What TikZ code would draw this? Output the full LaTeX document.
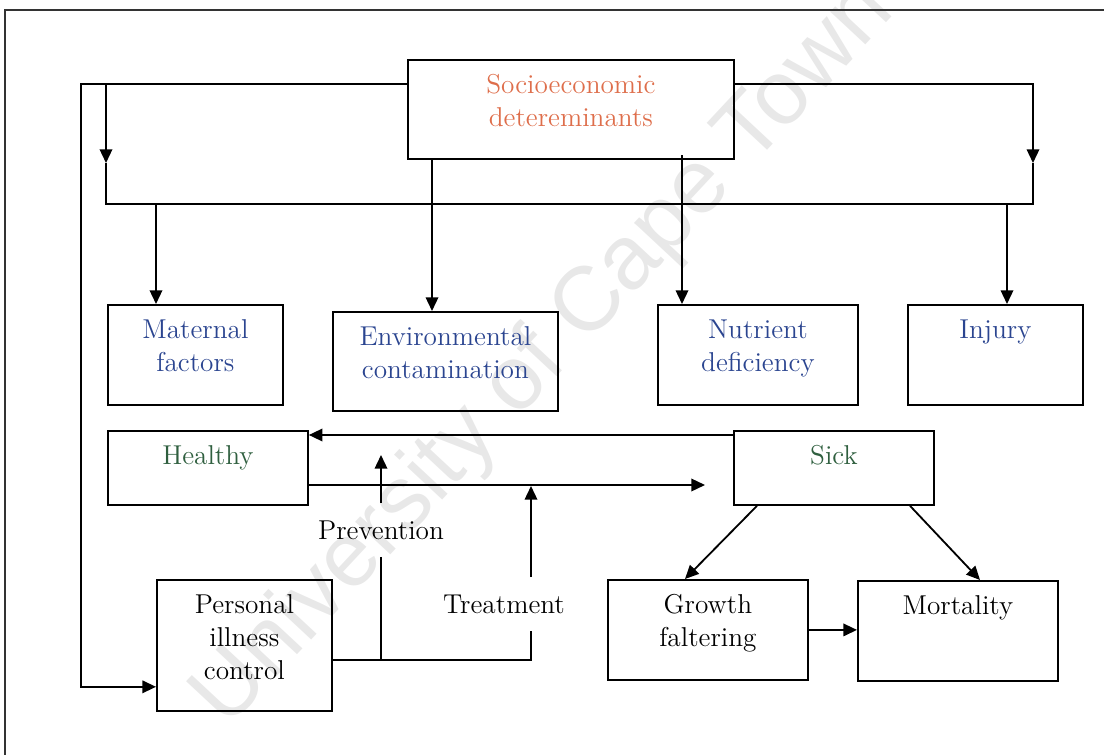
\documentclass[tikz,border=0pt]{standalone}
\usepackage{fontspec}
\usepackage{xcolor}
\usepackage{tikz}
\usetikzlibrary{arrows.meta,positioning,calc}
\newfontfamily\wmfont{Liberation Sans}
\definecolor{socOrange}{HTML}{DE6E4B}
\definecolor{facBlue}{HTML}{2B4590}
\definecolor{stGreen}{HTML}{2F5F3F}
\definecolor{wmGray}{HTML}{E8E8E8}
\def\u{0.44pt}
\tikzset{
  box/.style 2 args={draw,line width=0.8pt,inner sep=0pt,anchor=north west,
    minimum width=#1*\u,minimum height=#2*\u},
  txt/.style={align=center,inner sep=0pt,text=#1},
  lbl/.style={inner xsep=0pt,inner ysep=7.5pt},
  lnk/.style={line width=0.8pt}
}

\begin{document}
\begin{tikzpicture}[x=\u,y=-\u,font=\fontsize{12}{14.5}\selectfont,
  >={Triangle[length=6pt,width=5.5pt]}]
\useasboundingbox (0,0) rectangle (1104,755);
% watermark and frame
\node[text=wmGray,font=\wmfont\fontsize{40}{40}\selectfont,rotate=47] (wm) at (545,355) {University of Cape Town};
\draw[line width=0.7pt,black!80] (1104,10) -- (5,10) -- (5,755);

% boxes
\node[box={326}{99}] (soc) at (407,59) {};
\node[box={175}{100}] (mat) at (107,304) {};
\node[box={225}{99}] (env) at (332,311) {};
\node[box={200}{100}] (nut) at (657,304) {};
\node[box={175}{100}] (inj) at (907,304) {};
\node[box={200}{74}] (hea) at (107,430) {};
\node[box={200}{74}] (sic) at (733,430) {};
\node[box={175}{131}] (per) at (156,579) {};
\node[box={200}{100}] (gro) at (607,579) {};
\node[box={200}{100}] (mor) at (857,580) {};

% box texts
\node[txt=socOrange,anchor=north,below=6.7pt of soc.north] (socT) {Socioeconomic\\detereminants};
\node[txt=facBlue,anchor=north,below=6.7pt of mat.north] (matT) {Maternal\\factors};
\node[txt=facBlue,anchor=north,below=6.7pt of env.north] (envT) {Environmental\\contamination};
\node[txt=facBlue,anchor=north,below=6.7pt of nut.north] (nutT) {Nutrient\\deficiency};
\node[txt=facBlue,anchor=north,below=6.7pt of inj.north] (injT) {Injury};
\node[txt=stGreen,anchor=north,below=6.7pt of hea.north] (heaT) {Healthy};
\node[txt=stGreen,anchor=north,below=6.7pt of sic.north] (sicT) {Sick};
\node[txt=black,anchor=north,below=6.7pt of per.north] (perT) {Personal\\illness\\control};
\node[txt=black,anchor=north,below=6.7pt of gro.north] (groT) {Growth\\faltering};
\node[txt=black,anchor=north,below=6.7pt of mor.north] (morT) {Mortality};

% arrow labels
\node[lbl] (prev) at (381,530) {Prevention};
\node[lbl] (treat) at (504,604) {Treatment};

% bus points
\coordinate (busL) at (81,84);
\coordinate (tapL) at (106,84);
\coordinate (tapR) at (1033,84);
\coordinate (midL) at (106,163);
\coordinate (midR) at (1033,163);
\coordinate (busBL) at (106,204);
\coordinate (busBR) at (1033,204);
\coordinate (perIn) at ($(per.south west)+(0,-25)$);
\coordinate (matIn) at ($(mat.north west)+(49,0)$);
\coordinate (envIn) at ($(env.north west)+(100,0)$);
\coordinate (nutIn) at ($(nut.north west)+(25,0)$);
\coordinate (injIn) at ($(inj.north west)+(100,0)$);
\coordinate (hsEnd) at (705,485);
\coordinate (ctrlR) at (531,660);
\coordinate (treatTip) at (531,486);
\coordinate (prevTip) at (381,455);

% determinants
\draw[lnk,->] (soc.west |- tapL) -- (busL) |- (perIn);
\draw[lnk,->] (tapL) -- (midL);
\draw[lnk] (midL) -- (busBL) -- (busBR) -- (midR);
\draw[lnk,->] (soc.east |- tapR) -- (tapR) -- (midR);
\draw[lnk,->] (matIn |- busBL) -- (matIn);
\draw[lnk,->] (injIn |- busBL) -- (injIn);
\draw[lnk,->] (envIn |- soc.south) -- (envIn);
\draw[lnk,->] ([yshift=2pt]nutIn |- soc.south) -- (nutIn);

% healthy / sick
\draw[lnk,->] ([yshift=-2.2pt]sic.north west) -- ([yshift=-2.2pt]hea.north east);
\draw[lnk,->] (hea.east |- hsEnd) -- (hsEnd);
\draw[lnk] (per.east |- ctrlR) -- (ctrlR) -- (treat.south -| ctrlR);
\draw[lnk,->] (treat.north -| ctrlR) -- (treatTip);
\draw[lnk] (prev.south) -- (prev.south |- ctrlR);
\draw[lnk,->] (prev.north) -- (prevTip);

% outcomes
\draw[lnk,->] ($(sic.south west)+(24,0)$) -- ($(gro.north west)+(78,0)$);
\draw[lnk,->] ($(sic.south west)+(177,0)$) -- ($(mor.north west)+(123,0)$);
\draw[lnk,->] (gro.east) -- (gro.east -| mor.west);
\end{tikzpicture}
\end{document}
